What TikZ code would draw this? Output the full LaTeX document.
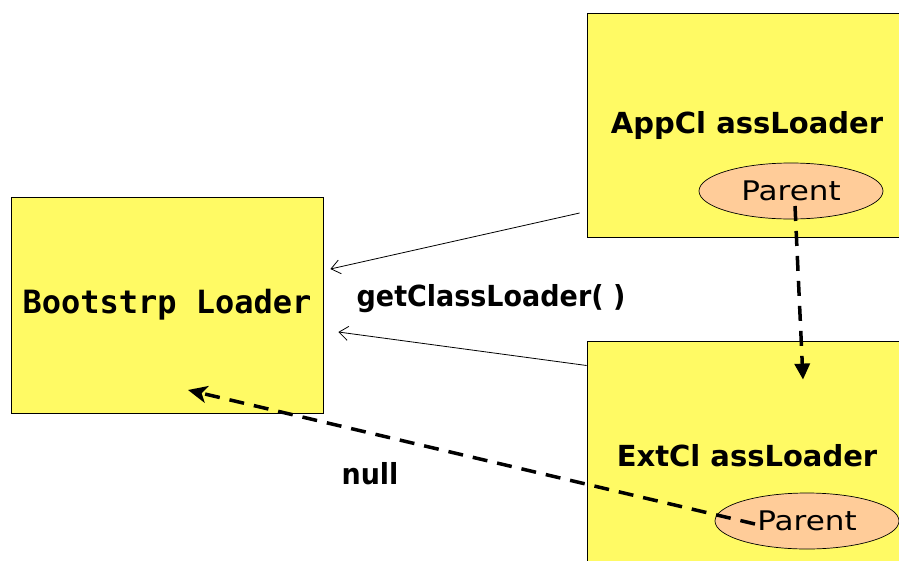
\documentclass[tikz,border=0pt]{standalone}
\usepackage{fontspec}
\setmainfont{DejaVu Sans}
\newfontfamily\monofont{DejaVu Sans Mono}
\newfontfamily\boxfont[FakeStretch=1.0]{DejaVu Sans}
\newfontfamily\lblfont[FakeStretch=0.93]{DejaVu Sans}
\newfontfamily\parfont[FakeStretch=1.15]{DejaVu Sans}
\usetikzlibrary{arrows.meta,shapes.geometric}
\definecolor{boxyellow}{RGB}{255,250,100}
\definecolor{peach}{RGB}{255,204,153}
\begin{document}
\begin{tikzpicture}[x=1pt,y=-1pt,
  loaderbox/.style={draw=black, line width=0.8pt, fill=boxyellow, inner sep=0pt,
    font=\boxfont\bfseries\fontsize{29}{34}\selectfont},
  parentell/.style={ellipse, draw=black, line width=0.7pt, fill=peach, inner sep=0pt,
    minimum width=184pt, minimum height=56pt, font=\parfont\fontsize{27}{32}\selectfont},
  callarrow/.style={-{Straight Barb[length=9pt,width=14pt]}, line width=0.8pt},
  parentarrow/.style={line width=3.5pt, dash pattern=on 15pt off 10pt},
  lbl/.style={inner sep=0pt, font=\lblfont\bfseries\fontsize{29}{34}\selectfont}]
\useasboundingbox (0,0) rectangle (899,560);
\clip (0,0) rectangle (899,560);
\node[loaderbox, font=\monofont\bfseries\fontsize{32}{38}\selectfont, minimum width=312pt, minimum height=216pt] (boot) at (167,305) {Bootstrp Loader};
\node[loaderbox, minimum width=320pt, minimum height=224pt] (app) at (747,125) {AppCl assLoader};
\node[loaderbox, minimum width=320pt, minimum height=229pt] (ext) at (747,455.5) {ExtCl assLoader};
\node[parentell] (p1) at (791,191) {Parent};
\node[parentell] (p2) at (807,521) {Parent};
\node[lbl] (gcl) at (491,299) {getClassLoader( )};
\node[lbl] (nul) at (370,474) {null};
\draw[callarrow] ([shift={(-7,88)}]app.west) -- ([shift={(7,-36)}]boot.east);
\draw[callarrow] ([shift={(0,-90)}]ext.west) -- ([shift={(15,27)}]boot.east);
\draw[parentarrow, -{Triangle[length=16pt,width=15pt]}] ([shift={(4,15)}]p1.center) -- ([shift={(56,39)}]ext.north);
\draw[parentarrow, -{Stealth[length=19pt,width=17pt,inset=5pt]}] ([shift={(-52,3)}]p2.center) -- ([shift={(21,85)}]boot.center);
\end{tikzpicture}
\end{document}
